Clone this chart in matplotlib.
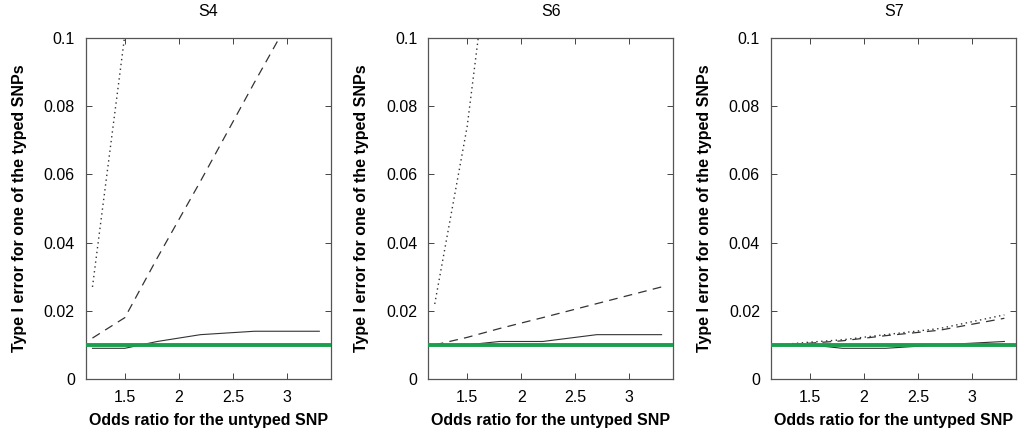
import matplotlib
matplotlib.use('Agg')
import matplotlib.pyplot as plt
import numpy as np

# odds ratios for the untyped SNP
odds = [1.2, 1.5, 1.8, 2.2, 2.7, 3.3]

panels = ['S4', 'S6', 'S7']

# type I error values (values above 0.1 are clipped by the axes)
s4_dotted = [0.027, 0.101]
s4_dashed = [0.012, 0.018, 0.0355, 0.058, 0.087, 0.121]
s4_solid = [0.009, 0.009, 0.011, 0.013, 0.014, 0.014]

s6_dotted = [0.022, 0.074, 0.15]
s6_dashed = [0.010, 0.0122, 0.0148, 0.018, 0.0221, 0.027]
s6_solid = [0.010, 0.010, 0.011, 0.011, 0.013, 0.013]

s7_dotted = [0.010, 0.0108, 0.0115, 0.013, 0.0148, 0.0188]
s7_dashed = [0.010, 0.0105, 0.0112, 0.0127, 0.0143, 0.0178]
s7_solid = [0.010, 0.010, 0.009, 0.009, 0.010, 0.011]

nominal = 0.01

dotted = [s4_dotted, s6_dotted, s7_dotted]
dashed = [s4_dashed, s6_dashed, s7_dashed]
solid = [s4_solid, s6_solid, s7_solid]

plt.rcParams['font.family'] = ['Liberation Sans', 'DejaVu Sans']

fig = plt.figure(figsize=(10.26, 4.43), dpi=100)
lefts = [0.0838, 0.4174, 0.7515]

for i in range(3):
    ax = fig.add_axes([lefts[i], 0.1445, 0.239, 0.7697])
    ax.plot(odds[:len(dotted[i])], dotted[i], color='#333333', lw=1.0, ls=(0, (1, 2.5)))
    ax.plot(odds, dashed[i], color='#333333', lw=0.9, ls=(0, (7, 5)))
    ax.plot(odds, solid[i], color='#333333', lw=0.8)
    ax.axhline(nominal, color='#1a9f4f', lw=2.8, zorder=3)

    ax.set_xlim(1.14, 3.41)
    ax.set_ylim(0, 0.1)
    ax.set_xticks([1.5, 2, 2.5, 3])
    ax.set_xticklabels(['1.5', '2', '2.5', '3'])
    ax.set_yticks([0, 0.02, 0.04, 0.06, 0.08, 0.1])
    ax.set_yticklabels(['0', '0.02', '0.04', '0.06', '0.08', '0.1'])
    ax.tick_params(direction='in', top=True, right=True, length=4, width=0.7,
                   color='#444444', labelsize=11.5, pad=8)
    for sp in ax.spines.values():
        sp.set_color('#555555')
        sp.set_linewidth(0.9)

    ax.set_title(panels[i], fontsize=11.5, pad=16)
    ax.set_xlabel('Odds ratio for the untyped SNP', fontsize=11.5, fontweight='bold', labelpad=6)
    ax.set_ylabel('Type I error for one of the typed SNPs', fontsize=11.5, fontweight='bold', labelpad=12)

plt.savefig('out.png', dpi=100)
plt.close()
